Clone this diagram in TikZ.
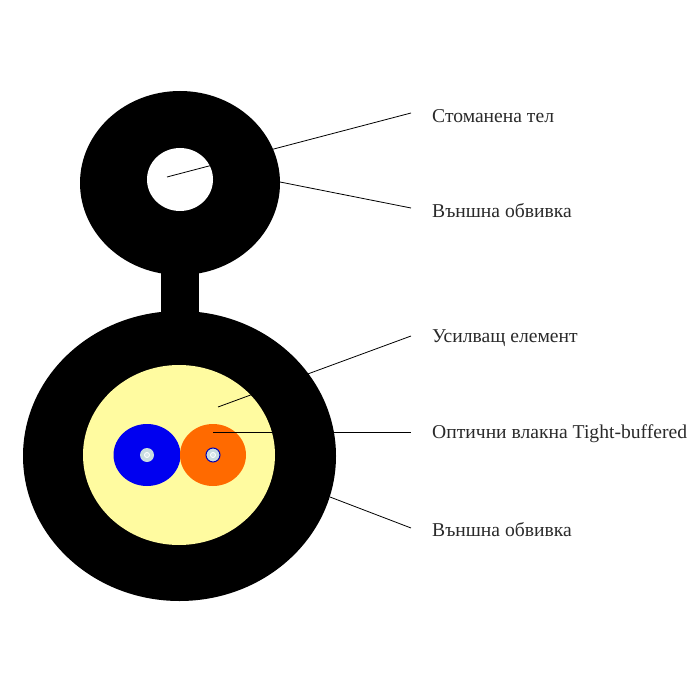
\documentclass[tikz,border=0pt]{standalone}
\usepackage{fontspec}
\setmainfont{Liberation Serif}
\definecolor{ycore}{HTML}{FFFBA0}
\definecolor{bluef}{HTML}{0000F0}
\definecolor{orangef}{HTML}{FF6A00}
\definecolor{txt}{HTML}{2A2A2A}
\definecolor{glass}{HTML}{C8DCE0}
\tikzset{
  lab/.style={anchor=west,inner sep=0pt,text=txt,font=\fontsize{19.6}{22}\selectfont},
  leader/.style={draw=black,line width=0.8pt}
}
\begin{document}
\begin{tikzpicture}[x=1pt,y=-1pt]
\useasboundingbox[fill=white] (0,0) rectangle (700,700);
% sheath
\fill[black] (180,183) ellipse [x radius=100,y radius=92];
\fill[black] (161,262) rectangle (199,325);
\fill[black] (179.5,456) ellipse [x radius=156.5,y radius=145];
\fill[white] (180,179.5) ellipse [x radius=33,y radius=31.5];
\fill[ycore] (179,455) ellipse [x radius=96,y radius=90];
% fibres
\fill[bluef] (147,455) ellipse [x radius=33.5,y radius=31];
\fill[orangef] (213,455) ellipse [x radius=33,y radius=31];
\fill[glass] (147,455) circle (7);
\fill[white] (147,455) circle (3);
\fill[glass!70!white] (147,455) circle (2);
\fill[glass] (213,455) circle (7);
\draw[draw=blue!70!black,line width=1pt] (213,455) circle (7);
\fill[white] (213,455) circle (3);
\fill[glass!70!white] (213,455) circle (2);
% free ends
\coordinate (s1) at (167,177);
\coordinate (e1) at (411,113);
\coordinate (s2) at (280,182);
\coordinate (e2) at (411,208);
\coordinate (s3) at (218,407);
\coordinate (e3) at (411,336);
\coordinate (s4) at (213,432);
\coordinate (e4) at (411,432);
\coordinate (s5) at (330,497);
\coordinate (e5) at (411,528);
\draw[leader] (s1) -- (e1);
\draw[leader] (s2) -- (e2);
\draw[leader] (s3) -- (e3);
\draw[leader] (s4) -- (e4);
\draw[leader] (s5) -- (e5);
% labels
\node[lab] (l1) at (432,116) {Стоманена тел};
\node[lab] (l2) at (432,211) {Външна обвивка};
\node[lab] (l3) at (432,338.5) {Усилващ елемент};
\node[lab] (l4) at (432,434) {Оптични влакна Tight-buffered};
\node[lab] (l5) at (432,530) {Външна обвивка};
\end{tikzpicture}
\end{document}
